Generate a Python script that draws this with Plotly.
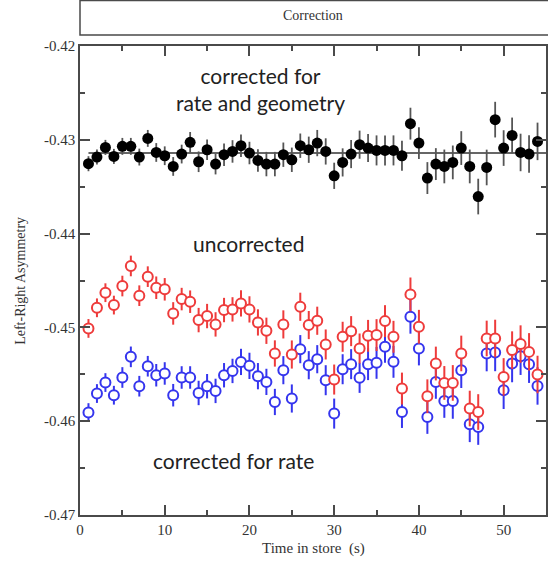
import plotly.graph_objects as go

# ---- data ----
time_s = list(range(1, 55))

geom_corrected = [
    -0.43255, -0.43184, -0.43081, -0.43177, -0.43070, -0.43070, -0.43184, -0.42985, -0.43135, -0.43170,
    -0.43284, -0.43152, -0.43027, -0.43234, -0.43106, -0.43259, -0.43159, -0.43124, -0.43063, -0.43141,
    -0.43220, -0.43259, -0.43259, -0.43159, -0.43213, -0.43063, -0.43106, -0.43035, -0.43124, -0.43384,
    -0.43241, -0.43152, -0.43052, -0.43088, -0.43113, -0.43113, -0.43113, -0.43170, -0.42828, -0.43035,
    -0.43408, -0.43259, -0.43284, -0.43241, -0.43088, -0.43284, -0.43605, -0.43295, -0.42785, -0.43088,
    -0.42953, -0.43135, -0.43152, -0.43017,
]

uncorrected = [
    -0.45011, -0.44791, -0.44630, -0.44762, -0.44559, -0.44345, -0.44662, -0.44459, -0.44577, -0.44594,
    -0.44851, -0.44698, -0.44726, -0.44922, -0.44879, -0.44968, -0.44815, -0.44808, -0.44744, -0.44808,
    -0.44947, -0.45036, -0.45278, -0.44968, -0.45289, -0.44780, -0.44975, -0.44929, -0.45182, -0.45556,
    -0.45100, -0.45040, -0.45225, -0.45090, -0.45082, -0.44933, -0.45100, -0.45652, -0.44648, -0.44993,
    -0.45734, -0.45385, -0.45592, -0.45592, -0.45278, -0.45865, -0.45902, -0.45118, -0.45118, -0.45528,
    -0.45242, -0.45178, -0.45261, -0.45502,
]

rate_corrected = [
    -0.45908, -0.45705, -0.45588, -0.45723, -0.45534, -0.45314, -0.45627, -0.45414, -0.45510, -0.45491,
    -0.45723, -0.45534, -0.45534, -0.45699, -0.45627, -0.45677, -0.45510, -0.45464, -0.45368, -0.45410,
    -0.45520, -0.45581, -0.45795, -0.45456, -0.45758, -0.45232, -0.45403, -0.45339, -0.45563, -0.45919,
    -0.45446, -0.45392, -0.45538, -0.45392, -0.45378, -0.45207, -0.45367, -0.45902, -0.44887, -0.45225,
    -0.45955, -0.45581, -0.45784, -0.45784, -0.45456, -0.46033, -0.46062, -0.45278, -0.45267, -0.45670,
    -0.45385, -0.45307, -0.45392, -0.45624,
]

err_geom = [
    0.0008, 0.0008, 0.0008, 0.0008, 0.0009, 0.0009, 0.0009, 0.0009, 0.0010, 0.0010,
    0.0010, 0.0010, 0.0011, 0.0011, 0.0011, 0.0011, 0.0012, 0.0012, 0.0012, 0.0012,
    0.0012, 0.0013, 0.0013, 0.0013, 0.0013, 0.0013, 0.0014, 0.0014, 0.0014, 0.0014,
    0.0015, 0.0015, 0.0015, 0.0015, 0.0016, 0.0016, 0.0016, 0.0016, 0.0017, 0.0017,
    0.0017, 0.0017, 0.0018, 0.0018, 0.0018, 0.0018, 0.0019, 0.0019, 0.0019, 0.0019,
    0.0019, 0.0020, 0.0020, 0.0020,
]

err_asym = [
    0.0010, 0.0010, 0.0010, 0.0010, 0.0011, 0.0011, 0.0011, 0.0011, 0.0012, 0.0012,
    0.0012, 0.0012, 0.0012, 0.0013, 0.0013, 0.0013, 0.0013, 0.0013, 0.0014, 0.0014,
    0.0014, 0.0014, 0.0014, 0.0015, 0.0015, 0.0015, 0.0015, 0.0015, 0.0016, 0.0016,
    0.0016, 0.0016, 0.0016, 0.0017, 0.0017, 0.0017, 0.0017, 0.0017, 0.0018, 0.0018,
    0.0018, 0.0018, 0.0018, 0.0019, 0.0019, 0.0019, 0.0019, 0.0019, 0.0020, 0.0020,
    0.0020, 0.0020, 0.0020, 0.0020,
]

fit_level = -0.4314
fit_span = [1, 55]

x_tick_vals = [0, 10, 20, 30, 40, 50]
x_tick_text = ["0", "10", "20", "30", "40", "50"]
y_tick_vals = [-0.47, -0.46, -0.45, -0.44, -0.43, -0.42]
y_tick_text = ["-0.47", "-0.46", "-0.45", "-0.44", "-0.43", "-0.42"]

# ---- styles ----
RED = "#ee3b3b"
BLUE = "#3535ee"
FRAME = "#4a4a4a"
SERIF = "Liberation Serif"
SANS = "Lato"

fig = go.Figure()

fig.add_trace(go.Scatter(
    x=time_s, y=rate_corrected, mode="markers",
    error_y=dict(type="data", array=err_asym, color=BLUE, thickness=2, width=0),
    marker=dict(symbol="circle", size=10, color="white", line=dict(color=BLUE, width=2)),
    showlegend=False,
))
fig.add_trace(go.Scatter(
    x=time_s, y=uncorrected, mode="markers",
    error_y=dict(type="data", array=err_asym, color=RED, thickness=2, width=0),
    marker=dict(symbol="circle", size=10, color="white", line=dict(color=RED, width=2)),
    showlegend=False,
))
fig.add_trace(go.Scatter(
    x=fit_span, y=[fit_level, fit_level], mode="lines",
    line=dict(color="#333333", width=1.5), showlegend=False,
))
fig.add_trace(go.Scatter(
    x=time_s, y=geom_corrected, mode="markers",
    error_y=dict(type="data", array=err_geom, color="#555555", thickness=1.8, width=0),
    marker=dict(symbol="circle", size=11, color="black"),
    showlegend=False,
))

axis_common = dict(
    showline=True, linecolor=FRAME, linewidth=1.5, mirror="ticks",
    ticks="inside", ticklen=10, tickwidth=1.5, tickcolor=FRAME,
    showgrid=False, zeroline=False,
    tickfont=dict(family=SERIF, size=15, color="#333333"),
)

fig.update_xaxes(
    range=[0, 55], tickvals=x_tick_vals, ticktext=x_tick_text,
    minor=dict(dtick=5, tick0=0, ticks="inside", ticklen=5, tickwidth=1.5, tickcolor=FRAME),
    **axis_common,
)
fig.update_yaxes(
    range=[-0.47, -0.42], tickvals=y_tick_vals, ticktext=y_tick_text,
    minor=dict(dtick=0.005, tick0=-0.47, ticks="inside", ticklen=5, tickwidth=1.5, tickcolor=FRAME),
    **axis_common,
)

# header box
fig.add_shape(type="rect", xref="paper", yref="paper",
              x0=0, x1=1.02, y0=1.0235, y1=1.097,
              line=dict(color=FRAME, width=1.5), fillcolor="white", layer="below")

annotations = [
    dict(text="Correction", x=0.5, y=1.066, font=dict(family=SERIF, size=14, color="#333333")),
    dict(text="Time in store\u00a0 (s)", x=0.5, y=-0.0704, font=dict(family=SERIF, size=15, color="#333333")),
    dict(text="Left-Right Asymmetry", x=-0.128, y=0.5, textangle=-90,
         font=dict(family=SERIF, size=14, color="#333333")),
    dict(text="corrected for<br>rate and geometry", x=0.387, y=0.908,
         font=dict(family=SANS, size=21, color="#222222")),
    dict(text="uncorrected", x=0.361, y=0.578, font=dict(family=SANS, size=21, color="#222222")),
    dict(text="corrected for rate", x=0.329, y=0.117, font=dict(family=SANS, size=21, color="#222222")),
]
for a in annotations:
    fig.add_annotation(xref="paper", yref="paper", showarrow=False,
                       xanchor="center", yanchor="middle", **a)

fig.update_layout(
    width=548, height=562,
    margin=dict(l=80, r=0, t=46, b=47),
    paper_bgcolor="white", plot_bgcolor="white",
)

fig.write_html(
    "out.html",
    config={"displayModeBar": False},
    post_script="document.body.style.margin='0';document.body.style.overflow='hidden';",
)
